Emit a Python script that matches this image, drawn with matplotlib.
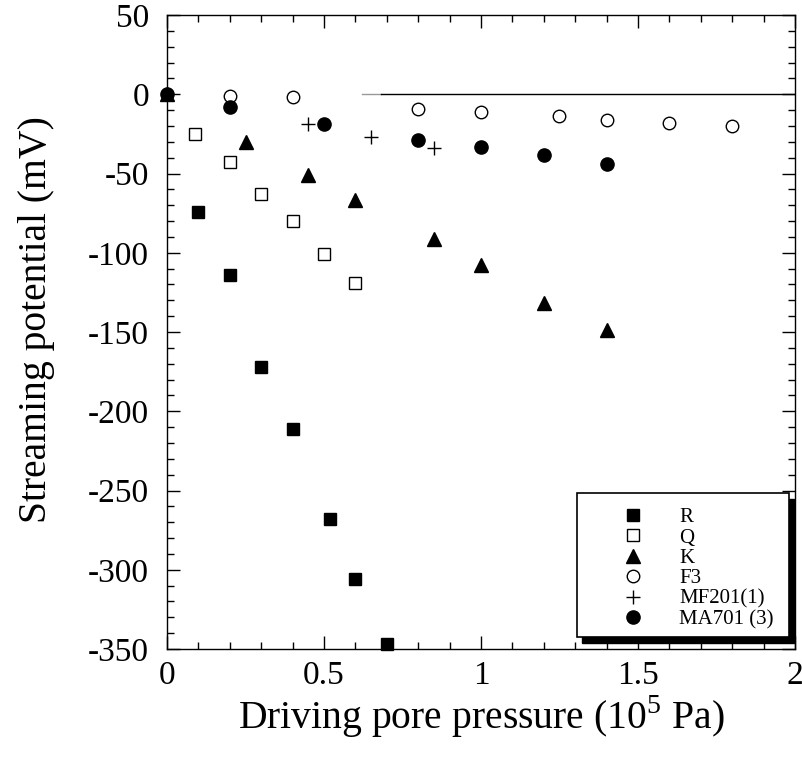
import numpy as np
import matplotlib
matplotlib.use("Agg")
import matplotlib.pyplot as plt
from matplotlib.patches import Rectangle
from matplotlib.ticker import MultipleLocator

plt.rcParams['font.family'] = ['Liberation Serif', 'DejaVu Serif']
plt.rcParams['axes.unicode_minus'] = False
plt.rcParams['mathtext.fontset'] = 'custom'
plt.rcParams['mathtext.rm'] = 'Liberation Serif'

# data (pressure in 1e5 Pa, potential in mV)
r_x = [0.1, 0.2, 0.3, 0.4, 0.52, 0.6, 0.7]
r_y = [-74, -114, -172, -211, -268, -306, -347]
q_x = [0.09, 0.2, 0.3, 0.4, 0.5, 0.6]
q_y = [-25, -43, -63, -80, -101, -119]
k_x = [0.0, 0.25, 0.45, 0.6, 0.85, 1.0, 1.2, 1.4]
k_y = [0, -30, -51, -67, -91, -108, -132, -149]
f3_x = [0.2, 0.4, 0.8, 1.0, 1.25, 1.4, 1.6, 1.8]
f3_y = [-1, -2, -9, -11, -14, -16, -18, -20]
mf_x = [0.45, 0.65, 0.85]
mf_y = [-19, -27, -34]
ma_x = [0.0, 0.2, 0.5, 0.8, 1.0, 1.2, 1.4]
ma_y = [0, -8, -19, -29, -33, -38, -44]

fig = plt.figure(figsize=(8.03, 7.63), dpi=100)
ax = fig.add_axes([0.208, 0.1494, 0.782, 0.8309])

ax.plot([0.62, 0.68], [0, 0], color='0.6', lw=1)
ax.plot([0.68, 2.0], [0, 0], color='black', lw=1)

ax.plot(r_x, r_y, 's', color='black', ms=9, label='R', clip_on=False)
ax.plot(q_x, q_y, 's', mfc='white', mec='black', mew=1, ms=9, label='Q')
ax.plot(k_x, k_y, '^', color='black', ms=9.5, label='K', clip_on=False)
ax.plot(f3_x, f3_y, 'o', mfc='white', mec='black', mew=1, ms=9, label='F3')
ax.plot(mf_x, mf_y, '+', color='black', mew=1, ms=10, label='MF201(1)')
ax.plot(ma_x, ma_y, 'o', color='black', ms=9.5, label='MA701 (3)', clip_on=False)

ax.set_xlim(0, 2)
ax.set_ylim(-350, 50)
ax.set_xticks([0, 0.5, 1, 1.5, 2])
ax.set_xticklabels(['0', '0.5', '1', '1.5', '2'])
ax.xaxis.set_minor_locator(MultipleLocator(0.1))
ax.yaxis.set_major_locator(MultipleLocator(50))
ax.yaxis.set_minor_locator(MultipleLocator(10))
ax.tick_params(which='both', direction='in', top=True, right=True, width=1)
ax.tick_params(which='major', length=9.5, labelsize=24)
ax.tick_params(which='minor', length=5)
ax.tick_params(axis='y', which='major', pad=13)
ax.tick_params(axis='x', which='major', pad=8)
for s in ax.spines.values():
    s.set_linewidth(1)

ax.set_xlabel('Driving pore pressure (10$^{5}$ Pa)', fontsize=28.5, labelpad=2)
ax.set_ylabel('Streaming potential (mV)', fontsize=28.5, labelpad=24)
ax.yaxis.label.set_y(0.52)

# legend box with a solid drop shadow
bx0, by0, bw, bh = 0.653, 0.019, 0.337, 0.227
ax.add_patch(Rectangle((bx0 + 0.008, by0 - 0.0095), bw, bh, transform=ax.transAxes,
                       facecolor='black', edgecolor='black', zorder=5, clip_on=False))
ax.add_patch(Rectangle((bx0, by0), bw, bh, transform=ax.transAxes,
                       facecolor='white', edgecolor='black', lw=1.2, zorder=6))
leg = ax.legend(loc='upper left', bbox_to_anchor=(0.726, 0.223), frameon=False,
                fontsize=15, handlelength=1.0, handletextpad=1.7,
                labelspacing=0.04, borderpad=0, borderaxespad=0, numpoints=1)
leg.set_zorder(7)

fig.savefig('out.png', dpi=100)
